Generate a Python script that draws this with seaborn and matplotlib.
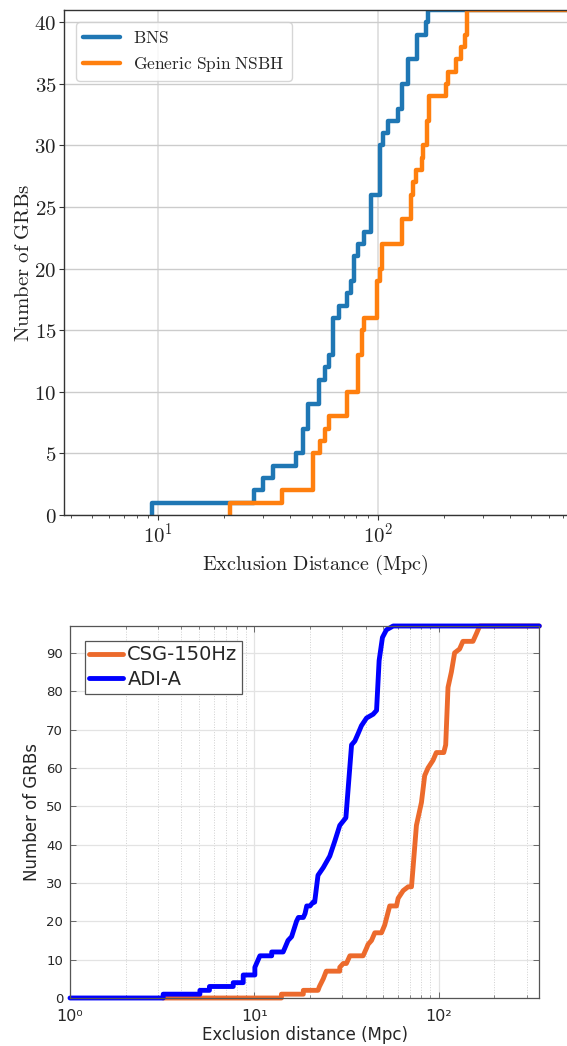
import numpy as np
import pandas as pd
import matplotlib
matplotlib.use("Agg")
import matplotlib.pyplot as plt
from matplotlib.ticker import FuncFormatter, FixedLocator, FixedFormatter, LogLocator, NullFormatter
import seaborn as sns

# top panel: distance (Mpc) at which the count steps up, and the count after the step
bns_dist = [9.36, 27.4, 30.1, 33.3, 42.6, 45.6, 48.3, 54.2, 57.5, 60.2, 62.8, 66.9,
            72.2, 75.8, 78.3, 81.2, 87.0, 92.9, 102.4, 106.0, 111.7, 124.0, 129.6,
            137.8, 150.5, 166.0, 170.1]
bns_count = [1, 2, 3, 4, 5, 7, 9, 11, 12, 13, 16, 17, 18, 19, 21, 22, 23, 26, 30,
             31, 32, 33, 35, 37, 39, 40, 41]
nsbh_dist = [21.3, 36.5, 50.9, 54.6, 57.5, 60.3, 72.3, 81.6, 84.6, 86.3, 98.8, 102.4,
             104.2, 128.5, 141.2, 144.2, 149.3, 158.4, 161.1, 168.2, 171.7, 204.7,
             209.7, 227.5, 238.9, 249.9, 254.2]
nsbh_count = [1, 2, 5, 6, 7, 8, 10, 13, 15, 16, 19, 20, 22, 24, 26, 27, 28, 29, 30,
              32, 34, 35, 36, 37, 38, 39, 41]

# bottom panel: curve vertices
csg_dist = [3.2, 14.0, 14.0, 18.4, 18.4, 22.1, 22.5, 23.6, 24.5, 29.0, 29.0, 30.3,
            31.5, 32.9, 38.8, 40.5, 41.3, 43.1, 44.9, 48.8, 50.8, 54.1, 58.9, 60.1,
            64.0, 68.1, 71.0, 72.4, 75.5, 80.4, 83.7, 87.3, 92.9, 96.8, 106.2, 108.8,
            112.0, 116.8, 121.6, 129.4, 134.9, 152.9, 159.6, 166.3]
csg_count = [0, 0, 1, 1, 2, 2, 3, 5, 7, 7, 8, 9, 9, 11, 11, 13, 14, 15, 17, 17, 19,
             24, 24, 26, 28, 29, 29, 34, 45, 51, 58, 60, 62, 64, 64, 66, 81, 85, 90,
             91, 93, 93, 95, 97]
adi_dist = [1.0, 3.2, 3.2, 5.06, 5.06, 5.7, 5.7, 7.67, 7.67, 8.69, 8.69, 10.05, 10.05,
            10.7, 12.4, 12.4, 14.3, 14.6, 15.2, 15.9, 16.9, 17.3, 18.4, 18.8, 19.2,
            20.0, 20.8, 21.2, 22.1, 23.6, 25.6, 27.3, 29.0, 31.3, 33.6, 35.0, 36.5,
            38.0, 40.5, 44.0, 45.9, 47.4, 49.4, 51.9, 56.5]
adi_count = [0, 0, 1, 1, 2, 2, 3, 3, 4, 4, 6, 6, 8, 11, 11, 12, 12, 13, 15, 16, 20,
             21, 21, 22, 24, 24, 25, 25, 32, 34, 37, 41, 45, 47, 66, 67, 69, 71, 73,
             74, 75, 88, 94, 96, 97]

top_labels = [r"$\mathrm{BNS}$", r"$\mathrm{Generic\ Spin\ NSBH}$"]
bottom_labels = ["CSG-150Hz", "ADI-A"]
top_xlim = (3.73, 727)
top_ylim = (0, 41)
bot_xlim = (1, 350)
bot_ylim = (0, 97)

sns.set_style("ticks")
plt.rcParams["font.family"] = ["DejaVu Sans"]
plt.rcParams["mathtext.fontset"] = "cm"


def step_frame(dist, count, name, x_end):
    x = [dist[0]] + list(dist) + [x_end]
    y = [0] + list(count) + [count[-1]]
    return pd.DataFrame({"dist": x, "count": y, "series": name})


def line_frame(dist, count, name, x_end):
    x = list(dist) + [x_end]
    y = list(count) + [count[-1]]
    return pd.DataFrame({"dist": x, "count": y, "series": name})


fig = plt.figure(figsize=(5.67, 10.46), dpi=100)

# ---------------- top panel ----------------
ax = fig.add_axes([64 / 567, 1 - 515 / 1046, 1 - 64 / 567, 505 / 1046])
top = pd.concat([step_frame(bns_dist, bns_count, top_labels[0], top_xlim[1]),
                 step_frame(nsbh_dist, nsbh_count, top_labels[1], top_xlim[1])])
sns.lineplot(data=top, x="dist", y="count", hue="series",
             palette=["#1f77b4", "#ff7f0e"], estimator=None, sort=False,
             drawstyle="steps-post", lw=3.2, legend=False, ax=ax)
ax.set_xscale("log")
ax.set_xlim(*top_xlim)
ax.set_ylim(*top_ylim)
ax.set_yticks(np.arange(0, 41, 5))
ax.yaxis.set_major_formatter(FuncFormatter(lambda v, p: r"$\mathrm{%d}$" % v))
ax.xaxis.set_major_locator(FixedLocator([10, 100]))
ax.xaxis.set_major_formatter(FuncFormatter(lambda v, p: r"$\mathrm{10^{%d}}$" % round(np.log10(v))))
ax.xaxis.set_minor_locator(LogLocator(base=10, subs=np.arange(2, 10)))
ax.xaxis.set_minor_formatter(NullFormatter())
ax.tick_params(axis="both", which="major", labelsize=15, length=3.5, width=0.8,
               pad=2, color="#333333", labelcolor="#222222")
ax.tick_params(axis="x", which="minor", length=2, width=0.6, color="#333333")
ax.grid(True, axis="y", which="major", color="#cccccc", lw=1)
ax.grid(True, axis="x", which="major", color="#dddddd", lw=1.2)
for s in ["left", "bottom", "top"]:
    ax.spines[s].set_color("#333333")
    ax.spines[s].set_linewidth(1)
ax.spines["right"].set_visible(False)
ax.set_xlabel(r"$\mathrm{Exclusion\ Distance\ (Mpc)}$", fontsize=14.5, color="#222222", labelpad=4)
ax.set_ylabel(r"$\mathrm{Number\ of\ GRBs}$", fontsize=15, color="#222222", labelpad=1)
ax.legend(ax.lines[:2], top_labels, loc="upper left", fontsize=12.5, framealpha=0.8,
          edgecolor="#cccccc", labelspacing=0.45, handlelength=2.1,
          borderaxespad=0.7)

# ---------------- bottom panel ----------------
ax2 = fig.add_axes([70 / 567, 1 - 998 / 1046, (539.3 - 70) / 567, (998 - 626) / 1046])
bottom = pd.concat([line_frame(csg_dist, csg_count, bottom_labels[0], bot_xlim[1]),
                    line_frame(adi_dist, adi_count, bottom_labels[1], bot_xlim[1])])
sns.lineplot(data=bottom, x="dist", y="count", hue="series",
             palette=["#ec6a2c", "#0000ff"], estimator=None, sort=False,
             lw=3.5, legend=False, ax=ax2)
for ln in ax2.lines:
    ln.set_clip_on(False)
ax2.set_xscale("log")
ax2.set_xlim(*bot_xlim)
ax2.set_ylim(*bot_ylim)
ax2.set_yticks(np.arange(0, 91, 10))
ax2.xaxis.set_major_locator(FixedLocator([1, 10, 100]))
ax2.xaxis.set_major_formatter(FixedFormatter(["10⁰", "10¹", "10²"]))
ax2.xaxis.set_minor_locator(LogLocator(base=10, subs=np.arange(2, 10)))
ax2.xaxis.set_minor_formatter(NullFormatter())
ax2.tick_params(axis="both", which="major", direction="in", top=True, right=True,
                labelsize=9.5, length=4, width=0.6, pad=5, color="#555555",
                labelcolor="#262626")
ax2.tick_params(axis="x", which="major", labelsize=11.5, pad=8)
ax2.tick_params(axis="x", which="minor", direction="in", top=True, bottom=True,
                length=2.5, width=0.5, color="#555555")
ax2.grid(True, which="major", color="#e3e3e3", lw=0.9)
ax2.grid(True, axis="x", which="minor", color="#d0d0d0", lw=0.7, ls=":")
for s in ax2.spines.values():
    s.set_color("#555555")
    s.set_linewidth(0.9)
ax2.set_xlabel("Exclusion distance (Mpc)", fontsize=12, color="#262626", labelpad=1)
ax2.set_ylabel("Number of GRBs", fontsize=12, color="#262626", labelpad=4)
leg = ax2.legend(ax2.lines[:2], bottom_labels, loc="upper left", fontsize=14,
                 fancybox=False, framealpha=1, edgecolor="#555555",
                 handlelength=1.7, handletextpad=0.25, borderpad=0.25,
                 labelspacing=0.3, borderaxespad=0.75)
leg.get_frame().set_linewidth(0.9)

fig.savefig("out.png", dpi=100)
